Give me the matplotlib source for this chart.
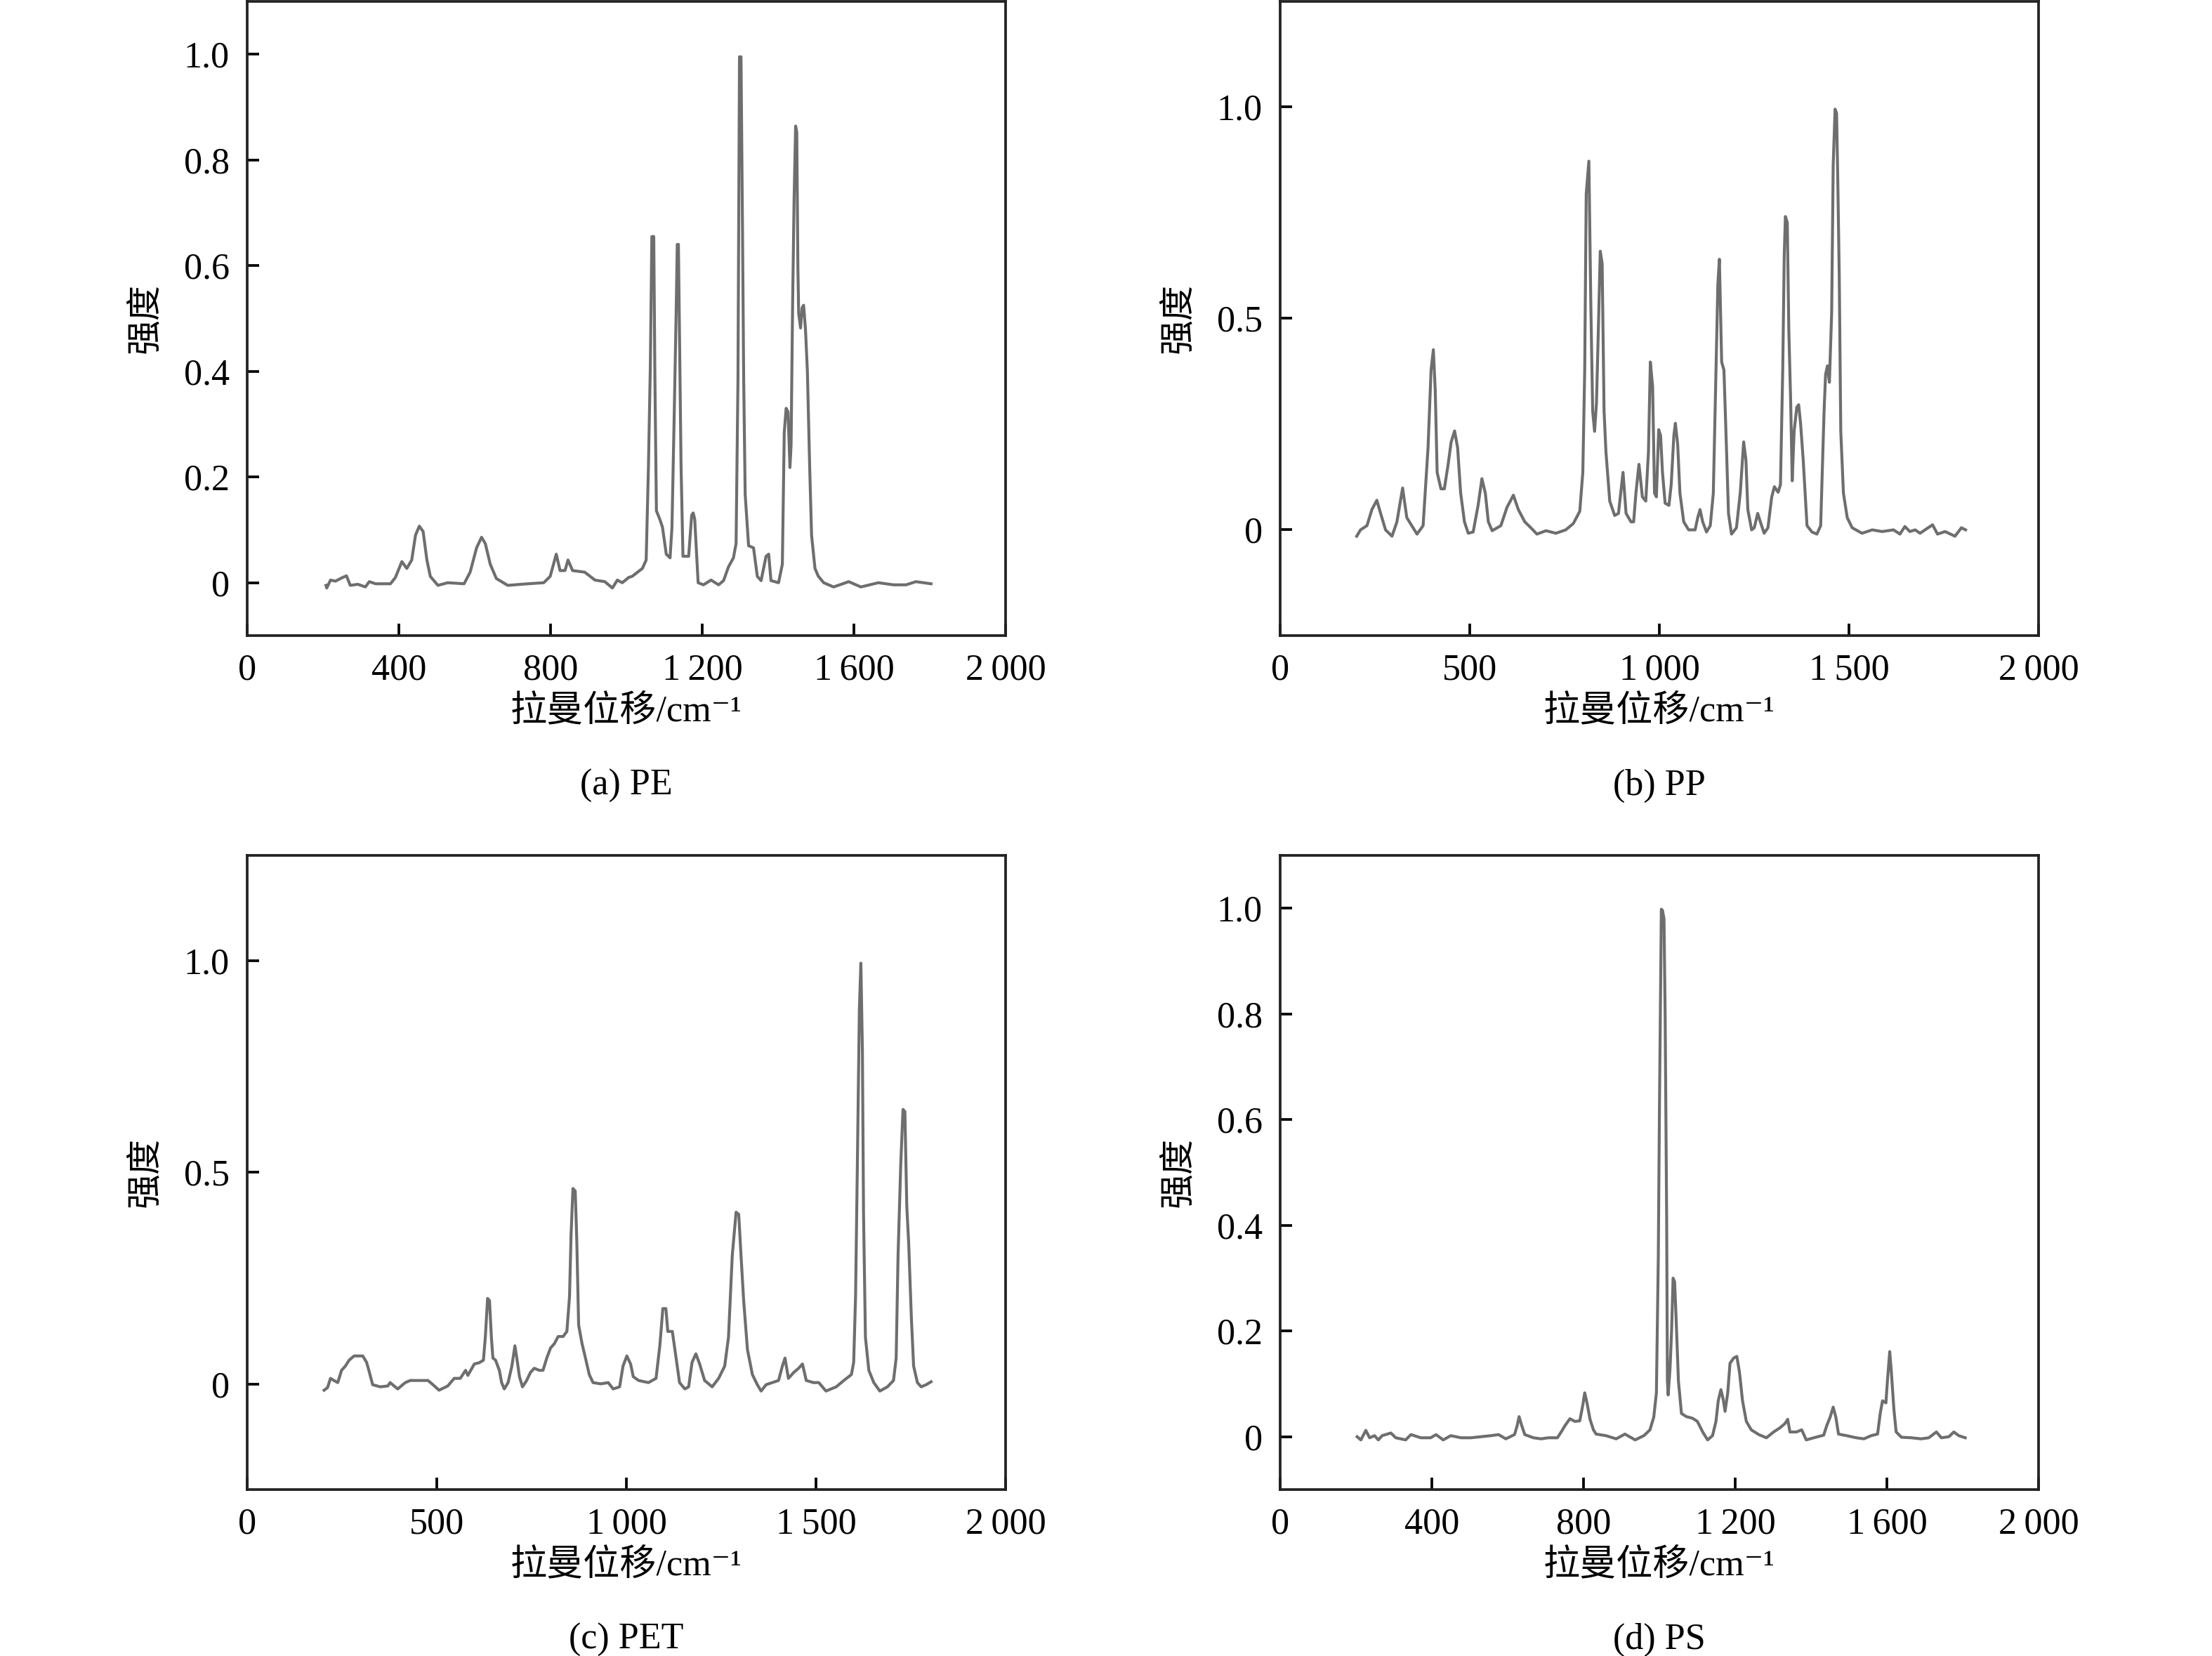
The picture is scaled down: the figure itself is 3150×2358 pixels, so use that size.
"""Raman spectra of four plastics (PE, PP, PET, PS) in a 2x2 grid."""

import matplotlib

matplotlib.use("Agg")
import matplotlib.pyplot as plt

plt.rcParams["font.family"] = ["Liberation Serif", "Noto Sans CJK SC", "DejaVu Serif"]

# --- data (wavenumber cm^-1, normalised intensity) ---
pe_x = [208, 210, 220, 233, 252, 262, 272, 292, 312, 322, 339, 378, 391, 408, 421, 434,
        444, 454, 464, 474, 483, 503, 529, 572, 588, 605, 618, 628, 641, 657, 687, 740,
        782, 799, 815, 825, 838, 846, 858, 890, 917, 943, 963, 976, 989, 1006, 1015, 1042,
        1052, 1058, 1063, 1067, 1072, 1075, 1079, 1088, 1095, 1105, 1115, 1120, 1126, 1131,
        1134, 1137, 1141, 1144, 1149, 1164, 1172, 1176, 1180, 1189, 1203, 1223, 1243, 1256,
        1269, 1282, 1289, 1294, 1298, 1302, 1306, 1309, 1313, 1322, 1335, 1345, 1355, 1368,
        1375, 1381, 1401, 1411, 1416, 1421, 1426, 1431, 1434, 1438, 1442, 1446, 1449, 1452,
        1454, 1459, 1463, 1467, 1472, 1477, 1483, 1488, 1497, 1506, 1520, 1546, 1586, 1618,
        1664, 1704, 1737, 1763, 1803]
pe_y = [-0.005, -0.01, 0.005, 0.003, 0.01, 0.013, -0.005, -0.003, -0.008, 0.002, -0.002,
        -0.002, 0.01, 0.04, 0.027, 0.043, 0.09, 0.107, 0.097, 0.043, 0.012, -0.005, 0.0,
        -0.002, 0.02, 0.066, 0.086, 0.074, 0.035, 0.008, -0.005, -0.002, 0.0, 0.012, 0.054,
        0.023, 0.023, 0.043, 0.023, 0.02, 0.005, 0.002, -0.01, 0.005, 0.0, 0.01, 0.012, 0.027,
        0.043, 0.22, 0.41, 0.655, 0.655, 0.39, 0.136, 0.12, 0.105, 0.054, 0.047, 0.105, 0.32,
        0.51, 0.64, 0.64, 0.40, 0.22, 0.05, 0.05, 0.128, 0.132, 0.12, 0.0, -0.004, 0.005,
        -0.004, 0.004, 0.03, 0.047, 0.074, 0.385, 0.995, 0.995, 0.665, 0.39, 0.167, 0.07,
        0.066, 0.012, 0.004, 0.05, 0.054, 0.004, 0.0, 0.035, 0.284, 0.33, 0.323, 0.218, 0.26,
        0.525, 0.728, 0.864, 0.852, 0.595, 0.51, 0.482, 0.52, 0.525, 0.479, 0.40, 0.22, 0.09,
        0.027, 0.012, 0.0, -0.008, 0.002, -0.008, 0.0, -0.004, -0.004, 0.002, -0.002]

pp_x = [202, 212, 229, 242, 255, 265, 278, 295, 308, 323, 334, 347, 361, 377, 390, 398,
        404, 409, 414, 424, 433, 443, 451, 460, 468, 476, 486, 496, 509, 522, 532, 541,
        549, 559, 582, 598, 615, 628, 645, 661, 677, 701, 727, 753, 773, 790, 798, 803,
        807, 814, 819, 824, 829, 834, 839, 844, 849, 854, 859, 869, 882, 892, 904, 912,
        925, 932, 938, 946, 955, 964, 971, 976, 982, 987, 992, 998, 1003, 1008, 1015, 1025,
        1031, 1038, 1042, 1048, 1054, 1064, 1077, 1094, 1101, 1107, 1114, 1124, 1134, 1142,
        1149, 1154, 1158, 1164, 1170, 1177, 1182, 1190, 1203, 1213, 1222, 1228, 1233, 1243,
        1250, 1259, 1266, 1276, 1286, 1296, 1303, 1313, 1319, 1325, 1329, 1332, 1337, 1341,
        1346, 1350, 1355, 1362, 1367, 1372, 1379, 1389, 1402, 1415, 1425, 1434, 1438, 1443,
        1448, 1454, 1458, 1463, 1467, 1470, 1474, 1478, 1485, 1495, 1508, 1534, 1561, 1587,
        1617, 1634, 1647, 1660, 1674, 1687, 1700, 1720, 1733, 1753, 1779, 1796, 1807]
pp_y = [-0.015, 0.0, 0.01, 0.048, 0.07, 0.039, 0.0, -0.015, 0.019, 0.099, 0.029, 0.01,
        -0.01, 0.01, 0.194, 0.378, 0.426, 0.33, 0.136, 0.097, 0.097, 0.155, 0.208, 0.234,
        0.194, 0.087, 0.019, -0.008, -0.005, 0.058, 0.121, 0.087, 0.019, -0.002, 0.01, 0.053,
        0.082, 0.048, 0.019, 0.005, -0.01, -0.002, -0.008, 0.0, 0.015, 0.044, 0.136, 0.378,
        0.795, 0.872, 0.54, 0.281, 0.233, 0.30, 0.475, 0.659, 0.63, 0.281, 0.184, 0.068,
        0.034, 0.039, 0.136, 0.039, 0.019, 0.019, 0.087, 0.155, 0.078, 0.068, 0.184, 0.397,
        0.339, 0.087, 0.078, 0.237, 0.223, 0.136, 0.063, 0.058, 0.107, 0.223, 0.252, 0.203,
        0.087, 0.019, 0.0, 0.0, 0.029, 0.048, 0.019, -0.005, 0.01, 0.087, 0.378, 0.581, 0.64,
        0.397, 0.378, 0.184, 0.039, -0.01, 0.005, 0.087, 0.208, 0.165, 0.048, 0.0, 0.005,
        0.039, 0.019, -0.008, 0.005, 0.078, 0.102, 0.089, 0.107, 0.378, 0.65, 0.741, 0.727,
        0.475, 0.30, 0.116, 0.233, 0.29, 0.296, 0.252, 0.165, 0.01, -0.005, -0.01, 0.01,
        0.281, 0.368, 0.388, 0.349, 0.514, 0.862, 0.995, 0.985, 0.833, 0.60, 0.233, 0.087,
        0.029, 0.005, -0.008, 0.0, -0.004, 0.0, -0.01, 0.008, -0.004, 0.0, -0.008, 0.0, 0.012,
        -0.01, -0.004, -0.015, 0.005, 0.0]

pet_x = [203, 212, 220, 229, 239, 249, 259, 269, 282, 305, 315, 321, 331, 351, 371, 377,
         397, 417, 430, 457, 477, 490, 506, 529, 546, 562, 576, 582, 599, 612, 623, 628,
         634, 639, 644, 648, 655, 665, 671, 678, 688, 698, 706, 711, 718, 726, 737, 747,
         757, 770, 780, 790, 800, 810, 820, 833, 843, 850, 854, 859, 865, 869, 874, 883,
         892, 902, 912, 932, 952, 965, 982, 991, 1001, 1011, 1018, 1032, 1058, 1078, 1088,
         1096, 1104, 1109, 1121, 1131, 1140, 1154, 1164, 1173, 1183, 1193, 1206, 1226, 1243,
         1259, 1269, 1279, 1289, 1296, 1302, 1309, 1319, 1332, 1345, 1355, 1368, 1401, 1411,
         1418, 1427, 1441, 1454, 1464, 1474, 1493, 1507, 1526, 1553, 1573, 1593, 1599, 1604,
         1609, 1614, 1618, 1622, 1625, 1630, 1639, 1652, 1668, 1688, 1704, 1711, 1716, 1723,
         1729, 1734, 1739, 1744, 1751, 1757, 1767, 1777, 1790, 1803]
pet_y = [-0.015, -0.009, 0.013, 0.008, 0.003, 0.032, 0.042, 0.056, 0.066, 0.066, 0.051,
         0.032, -0.002, -0.007, -0.005, 0.003, -0.012, 0.003, 0.008, 0.008, 0.008, -0.002,
         -0.015, -0.005, 0.013, 0.013, 0.032, 0.02, 0.047, 0.05, 0.056, 0.11, 0.202, 0.197,
         0.11, 0.061, 0.056, 0.032, 0.003, -0.012, 0.003, 0.042, 0.09, 0.061, 0.017, -0.007,
         0.008, 0.027, 0.037, 0.032, 0.032, 0.061, 0.085, 0.095, 0.112, 0.112, 0.124, 0.207,
         0.352, 0.462, 0.456, 0.343, 0.139, 0.095, 0.061, 0.022, 0.003, 0.0, 0.003, -0.012,
         -0.007, 0.042, 0.066, 0.047, 0.017, 0.008, 0.003, 0.013, 0.09, 0.178, 0.178, 0.124,
         0.124, 0.061, 0.003, -0.012, -0.007, 0.051, 0.071, 0.047, 0.008, -0.007, 0.013,
         0.042, 0.11, 0.304, 0.406, 0.401, 0.304, 0.197, 0.081, 0.022, -0.002, -0.017,
         -0.002, 0.008, 0.042, 0.061, 0.013, 0.027, 0.037, 0.047, 0.008, 0.003, 0.003,
         -0.017, -0.007, 0.008, 0.022, 0.051, 0.207, 0.537, 0.886, 0.995, 0.789, 0.401,
         0.11, 0.032, 0.003, -0.017, -0.007, 0.008, 0.061, 0.304, 0.517, 0.649, 0.644, 0.42,
         0.333, 0.158, 0.042, 0.003, -0.007, -0.002, 0.005]

ps_x = [203, 213, 226, 236, 249, 259, 269, 292, 305, 331, 345, 371, 397, 411, 430, 450,
        477, 503, 529, 556, 576, 595, 618, 625, 630, 637, 645, 668, 688, 707, 731, 741,
        751, 764, 777, 790, 798, 803, 809, 817, 826, 833, 859, 886, 909, 936, 959, 975,
        985, 992, 997, 1000, 1005, 1008, 1012, 1015, 1019, 1021, 1023, 1028, 1032, 1036,
        1040, 1044, 1050, 1058, 1071, 1087, 1100, 1114, 1127, 1140, 1149, 1155, 1162, 1168,
        1173, 1180, 1186, 1196, 1204, 1211, 1219, 1229, 1242, 1262, 1282, 1301, 1318, 1331,
        1338, 1344, 1361, 1375, 1387, 1407, 1433, 1441, 1450, 1458, 1465, 1472, 1493, 1519,
        1539, 1558, 1575, 1582, 1588, 1597, 1601, 1607, 1611, 1618, 1624, 1638, 1664, 1690,
        1710, 1730, 1743, 1763, 1776, 1789, 1806]
ps_y = [0.0, -0.006, 0.012, -0.002, 0.002, -0.006, 0.002, 0.007, -0.002, -0.006, 0.004,
        -0.002, -0.002, 0.004, -0.006, 0.002, -0.002, -0.002, 0.0, 0.002, 0.004, -0.004,
        0.004, 0.021, 0.038, 0.021, 0.004, -0.002, -0.004, -0.002, -0.002, 0.009, 0.021,
        0.034, 0.029, 0.03, 0.06, 0.083, 0.064, 0.033, 0.013, 0.005, 0.002, -0.004, 0.005,
        -0.006, 0.002, 0.013, 0.037, 0.083, 0.34, 0.62, 0.998, 0.996, 0.98, 0.80, 0.417,
        0.106, 0.079, 0.13, 0.2, 0.30, 0.293, 0.223, 0.106, 0.044, 0.038, 0.035, 0.029,
        0.009, -0.006, 0.002, 0.029, 0.068, 0.089, 0.071, 0.048, 0.083, 0.139, 0.149, 0.152,
        0.122, 0.068, 0.029, 0.013, 0.004, -0.002, 0.009, 0.017, 0.025, 0.033, 0.009, 0.009,
        0.013, -0.006, -0.002, 0.003, 0.021, 0.037, 0.056, 0.037, 0.005, 0.002, -0.002,
        -0.004, 0.002, 0.005, 0.044, 0.068, 0.064, 0.106, 0.161, 0.126, 0.052, 0.009, -0.001,
        -0.002, -0.004, -0.002, 0.009, -0.002, 0.0, 0.009, 0.002, -0.002]

# axis ticks / labels for each panel
xticks_400 = [0, 400, 800, 1200, 1600, 2000]
xlabels_400 = ["0", "400", "800", "1\u2009200", "1\u2009600", "2\u2009000"]
xticks_500 = [0, 500, 1000, 1500, 2000]
xlabels_500 = ["0", "500", "1\u2009000", "1\u2009500", "2\u2009000"]
yticks_02 = [0, 0.2, 0.4, 0.6, 0.8, 1.0]
ylabels_02 = ["0", "0.2", "0.4", "0.6", "0.8", "1.0"]
yticks_05 = [0, 0.5, 1.0]
ylabels_05 = ["0", "0.5", "1.0"]

captions = ["(a) PE", "(b) PP", "(c) PET", "(d) PS"]

LINE_COLOR = "#6e6e6e"
XLABEL = "拉曼位移/cm\u207b\u00b9"
YLABEL = "强度"

fig = plt.figure(figsize=(10.5, 7.86), dpi=300)

# axes rectangles in figure fractions
left_col, right_col = 0.1117, 0.5787
top_row, bottom_row = 0.6162, 0.1005
ax_w, ax_h = 0.3430, 0.3830

panels = [
    ([left_col, top_row, ax_w, ax_h], pe_x, pe_y, xticks_400, xlabels_400,
     yticks_02, ylabels_02, (-0.1, 1.1)),
    ([right_col, top_row, ax_w, ax_h], pp_x, pp_y, xticks_500, xlabels_500,
     yticks_05, ylabels_05, (-0.25, 1.25)),
    ([left_col, bottom_row, ax_w, ax_h], pet_x, pet_y, xticks_500, xlabels_500,
     yticks_05, ylabels_05, (-0.25, 1.25)),
    ([right_col, bottom_row, ax_w, ax_h], ps_x, ps_y, xticks_400, xlabels_400,
     yticks_02, ylabels_02, (-0.1, 1.1)),
]

for (rect, xs, ys, xt, xtl, yt, ytl, ylim), cap in zip(panels, captions):
    ax = fig.add_axes(rect)
    ax.plot(xs, ys, color=LINE_COLOR, lw=1.0)
    ax.set_xlim(0, 2000)
    ax.set_ylim(*ylim)
    ax.set_xticks(xt, xtl)
    ax.set_yticks(yt, ytl)
    ax.tick_params(direction="in", length=4, width=0.9, labelsize=12.5,
                   top=False, right=False, pad=6)
    for sp in ax.spines.values():
        sp.set_linewidth(0.9)
        sp.set_color("#222222")
    ax.set_xlabel(XLABEL, fontsize=12.5, va="center")
    ax.xaxis.set_label_coords(0.5, -0.12)
    ax.set_ylabel(YLABEL, fontsize=12, va="center")
    ax.yaxis.set_label_coords(-0.134, 0.5)
    ax.text(0.5, -0.237, cap, transform=ax.transAxes, ha="center", va="center",
            fontsize=12.5)

fig.savefig("out.png", dpi=300, facecolor="white")
plt.close(fig)
